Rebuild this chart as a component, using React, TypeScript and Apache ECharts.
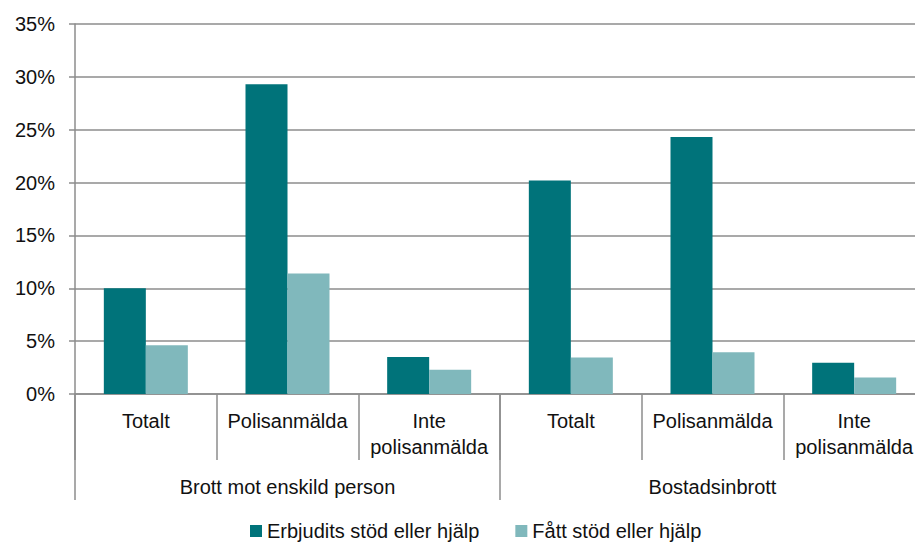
import React, { useEffect, useRef } from "react";
import * as echarts from "echarts";

const categories = ["Totalt", "Polisanmälda", "Inte\npolisanmälda", "Totalt", "Polisanmälda", "Inte\npolisanmälda"];
const groups = ["Brott mot enskild person", "Bostadsinbrott"];
const seriesNames = ["Erbjudits stöd eller hjälp", "Fått stöd eller hjälp"];
const offered = [10.0, 29.3, 3.5, 20.2, 24.3, 2.95];
const received = [4.6, 11.4, 2.3, 3.45, 3.95, 1.55];
const yTicks = [0, 5, 10, 15, 20, 25, 30, 35];

const FONT = "Liberation Sans, Arial, sans-serif";
const GREY = "#8c8c8c";
const TEXT = "#111111";
const FS = 20;

export default function App() {
  const ref = useRef<HTMLDivElement>(null);
  useEffect(() => {
    if (!ref.current) return;
    const chart = echarts.init(ref.current, null, { renderer: "svg" });
    chart.setOption({
      animation: false,
      backgroundColor: "#ffffff",
      textStyle: { fontFamily: FONT },
      grid: { left: 75, top: 24, height: 370, right: 0, containLabel: false },
      legend: {
        data: seriesNames,
        left: 250,
        top: 521,
        padding: 0,
        itemWidth: 12,
        itemHeight: 12,
        itemGap: 36,
        icon: "rect",
        textStyle: { fontSize: FS, color: TEXT, fontFamily: FONT },
      },
      xAxis: [
        {
          type: "category",
          data: categories,
          position: "bottom",
          axisLine: { show: true, lineStyle: { color: GREY, width: 1.5 } },
          axisTick: { show: true, length: 66, interval: 0, lineStyle: { color: GREY, width: 1.5 } },
          axisLabel: { interval: 0, margin: 14, fontSize: FS, color: TEXT, lineHeight: 26, fontFamily: FONT },
          splitLine: { show: false },
        },
        {
          type: "category",
          data: groups,
          position: "bottom",
          axisLine: { show: false },
          axisTick: { show: true, length: 106, interval: 0, lineStyle: { color: GREY, width: 1.5 } },
          axisLabel: { interval: 0, margin: 80, fontSize: FS, color: TEXT, lineHeight: 26, fontFamily: FONT },
          splitLine: { show: false },
        },
      ],
      yAxis: {
        type: "value",
        min: yTicks[0],
        max: yTicks[yTicks.length - 1],
        interval: 5,
        axisLine: { show: true, lineStyle: { color: GREY, width: 1.5 } },
        axisTick: { show: true, length: 6, inside: false, lineStyle: { color: GREY, width: 1.5 } },
        axisLabel: { margin: 20, fontSize: FS, color: TEXT, fontFamily: FONT, formatter: (v: number) => v + "%" },
        splitLine: { show: true, lineStyle: { color: GREY, width: 1.5 } },
      },
      series: [
        {
          name: seriesNames[0],
          type: "bar",
          xAxisIndex: 0,
          data: offered,
          barWidth: 42,
          barGap: "0%",
          itemStyle: { color: "#00737a" },
        },
        {
          name: seriesNames[1],
          type: "bar",
          xAxisIndex: 0,
          data: received,
          barWidth: 42,
          barGap: "0%",
          itemStyle: { color: "#80b8bc" },
        },
      ],
    });
    return () => chart.dispose();
  }, []);
  return <div ref={ref} style={{ position: "fixed", left: 0, top: 0, width: 925, height: 543 }} />;
}
